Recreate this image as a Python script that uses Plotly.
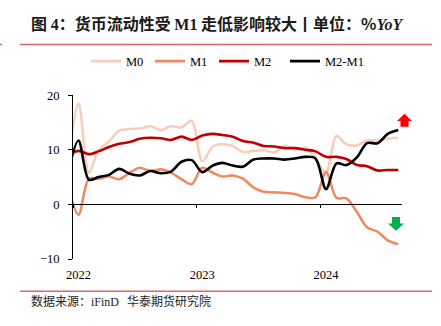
import plotly.graph_objects as go

# ---- data (YoY %, monthly) ----
months = ["2021-12-01",
          "2022-01-01", "2022-02-01", "2022-03-01", "2022-04-01", "2022-05-01", "2022-06-01",
          "2022-07-01", "2022-08-01", "2022-09-01", "2022-10-01", "2022-11-01", "2022-12-01",
          "2023-01-01", "2023-02-01", "2023-03-01", "2023-04-01", "2023-05-01", "2023-06-01",
          "2023-07-01", "2023-08-01", "2023-09-01", "2023-10-01", "2023-11-01", "2023-12-01",
          "2024-01-01", "2024-02-01", "2024-03-01", "2024-04-01", "2024-05-01", "2024-06-01",
          "2024-07-01", "2024-08-01"]
m0 = [7.7,
      18.5, 5.8, 9.9, 11.5, 13.5, 13.8, 13.9, 14.3, 13.6, 14.3, 14.1, 15.3,
      7.9, 10.6, 11.0, 10.7, 9.6, 9.8, 9.9, 9.5, 10.7, 10.0, 10.4, 8.3,
      5.9, 12.5, 11.0, 10.8, 11.7, 11.7, 12.0, 12.2]
m1 = [3.5,
      -1.9, 4.7, 4.7, 5.1, 4.6, 5.8, 6.7, 6.1, 6.4, 5.8, 4.6, 3.7,
      6.7, 5.8, 5.1, 5.3, 4.7, 3.1, 2.3, 2.2, 2.1, 1.9, 1.3, 1.3,
      5.9, 1.2, 1.1, -1.4, -4.2, -5.0, -6.6, -7.3]
m2 = [9.0,
      9.8, 9.2, 9.7, 10.5, 11.1, 11.4, 12.0, 12.2, 12.1, 11.8, 12.4, 11.8,
      12.6, 12.9, 12.7, 12.4, 11.6, 11.3, 10.7, 10.6, 10.3, 10.3, 10.0, 9.7,
      8.7, 8.7, 8.3, 7.2, 7.0, 6.2, 6.3, 6.3]
m2_m1 = [5.5,
         11.7, 4.5, 5.0, 5.4, 6.5, 5.6, 5.3, 6.1, 5.7, 6.0, 7.8, 8.1,
         5.9, 7.1, 7.6, 7.1, 6.9, 8.2, 8.4, 8.4, 8.2, 8.4, 8.7, 8.4,
         2.8, 7.5, 7.2, 8.6, 11.2, 11.2, 12.9, 13.6]
series_names = ["M0", "M1", "M2", "M2-M1"]
year_ticks = ["2022-01-01", "2023-01-01", "2024-01-01"]
year_labels = ["2022", "2023", "2024"]
boundary_ticks = ["2021-12-16", "2022-12-16", "2023-12-16"]
y_ticks = [-10, 0, 10, 20]

# ---- layout geometry (pixels) ----
W, H = 441, 326
L, R, T, B = 73, 39, 91, 67
PW, PH = W - L - R, H - T - B


def px(x):
    return (x - L) / PW


def py(y):
    return (H - B - y) / PH


colors = ["#F9CDB7", "#F08A62", "#C00000", "#000000"]
legend_ids = ["legend", "legend", "legend", "legend2"]
serif = "Liberation Serif, Times New Roman, serif"
cjk = "Noto Sans CJK SC, sans-serif"

fig = go.Figure()
for name, vals, c, lg in zip(series_names, [m0, m1, m2, m2_m1], colors, legend_ids):
    fig.add_trace(go.Scatter(x=months, y=vals, name=name, mode="lines", legend=lg,
                             line=dict(color=c, width=2.6, shape="spline", smoothing=0.9),
                             cliponaxis=True))
# helper trace for the zero-line axis
fig.add_trace(go.Scatter(x=[months[0]], y=[0], xaxis="x2", mode="markers",
                         marker=dict(opacity=0), showlegend=False, hoverinfo="skip"))

legend_common = dict(orientation="h", xanchor="left", xref="container",
                     y=1 - 61.5 / H, yref="container", yanchor="middle",
                     font=dict(family=serif, size=12.5, color="#000"),
                     itemwidth=30, tracegroupgap=0, bgcolor="rgba(0,0,0,0)")

xr = ["2021-12-16", "2024-08-12"]
fig.update_layout(
    width=W, height=H,
    margin=dict(l=L, r=R, t=T, b=B),
    paper_bgcolor="white", plot_bgcolor="white",
    showlegend=True,
    legend=dict(x=86 / W, entrywidth=19, **legend_common),
    legend2=dict(x=285 / W, **legend_common),
    xaxis=dict(type="date", range=xr, showgrid=False, zeroline=False, showline=False,
               tickvals=year_ticks, ticktext=year_labels, ticks="",
               ticklabelstandoff=6,
               tickfont=dict(family=serif, size=12.5, color="#000")),
    xaxis2=dict(type="date", range=xr, overlaying="x", anchor="free",
                position=(0 - y_ticks[0]) / (y_ticks[-1] - y_ticks[0]),
                showgrid=False, zeroline=False, showline=True, linecolor="#000", linewidth=1,
                tickvals=boundary_ticks, ticks="outside", ticklen=3, tickcolor="#000",
                showticklabels=False),
    yaxis=dict(range=[y_ticks[0], y_ticks[-1]], tickvals=y_ticks, showgrid=False,
               zeroline=False, showline=True, linecolor="#000", linewidth=1,
               ticks="outside", ticklen=4, tickcolor="#000", ticklabelstandoff=6,
               tickfont=dict(family=serif, size=12.5, color="#000")),
)

# title
fig.add_annotation(
    xref="paper", yref="paper", x=px(29), y=py(17), xanchor="left", yanchor="middle",
    showarrow=False,
    text=("<b>图 <span style='font-family:Liberation Serif'>4</span>：货币流动性受 "
          "<span style='font-family:Liberation Serif'>M1</span> 走低影响较大丨单位：%"
          "<span style='font-family:Liberation Serif'><i>YoY</i></span></b>"),
    font=dict(family=cjk, size=16, color="#1a1a1a"))

# source
fig.add_annotation(
    xref="paper", yref="paper", x=px(29), y=py(302), xanchor="left", yanchor="middle",
    showarrow=False,
    text="数据来源：<span style='font-family:Liberation Serif'>iFinD</span>   华泰期货研究院",
    font=dict(family=cjk, size=12, color="#222"))

# separator lines
for yy in (39, 292):
    fig.add_shape(type="line", xref="paper", yref="paper", x0=px(20), x1=px(432),
                  y0=py(yy), y1=py(yy), line=dict(color="#D46A6A", width=1.5))
fig.add_shape(type="line", xref="paper", yref="paper", x0=px(0), x1=px(2),
              y0=py(39), y1=py(39), line=dict(color="#D46A6A", width=1.5))


def arrow(cx, tip, base, head_base, hw, sw, color):
    pts = [(cx, tip), (cx + hw, head_base), (cx + sw, head_base), (cx + sw, base),
           (cx - sw, base), (cx - sw, head_base), (cx - hw, head_base)]
    path = "M " + " L ".join(f"{px(a):.4f},{py(b):.4f}" for a, b in pts) + " Z"
    fig.add_shape(type="path", xref="paper", yref="paper", path=path,
                  fillcolor=color, line=dict(width=0))


arrow(404.5, 110, 123.5, 117.5, 7.5, 4, "#FF0000")
arrow(396, 230, 216, 222.5, 8, 4, "#00B050")

fig.write_html("out.html")
